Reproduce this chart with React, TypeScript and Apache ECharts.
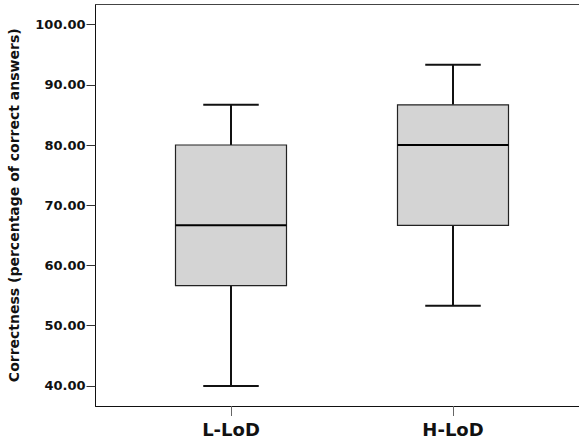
import React, { useEffect, useRef } from "react";
import * as echarts from "echarts";

const categories = ["L-LoD", "H-LoD"];
const lowWhisker = [40, 53.33];
const q1Values = [56.67, 66.67];
const medians = [66.67, 80];
const q3Values = [80, 86.67];
const highWhisker = [86.67, 93.33];
const yTicks = [40, 50, 60, 70, 80, 90, 100];
const yAxisName = "Correctness (percentage of correct answers)";
const Y_MIN = 36.667;
const Y_MAX = 103.333;

const FONT = "DejaVu Sans";

export default function App() {
  const ref = useRef<HTMLDivElement>(null);
  useEffect(() => {
    if (!ref.current) return;
    const chart = echarts.init(ref.current, null, { renderer: "svg" });
    const boxData = categories.map((_, i) => [
      i,
      lowWhisker[i],
      q1Values[i],
      medians[i],
      q3Values[i],
      highWhisker[i],
    ]);
    const option: any = {
      animation: false,
      backgroundColor: "#ffffff",
      grid: [
        { left: 120, right: 15, top: 4.5, bottom: 34, outerBoundsMode: "none", containLabel: false },
        { left: 95.5, right: -2, top: 4.5, bottom: 34, outerBoundsMode: "none", containLabel: false },
      ],
      xAxis: [
        {
          type: "category",
          gridIndex: 0,
          data: categories,
          boundaryGap: true,
          axisLine: { show: false },
          axisTick: { show: true, alignWithLabel: true, length: 10, lineStyle: { color: "#666", width: 1 } },
          axisLabel: { fontFamily: FONT, fontSize: 18, fontWeight: "bold", color: "#111", margin: 14 },
          splitLine: { show: false },
        },
        {
          type: "value",
          gridIndex: 1,
          min: 0,
          max: 1,
          position: "bottom",
          axisLine: { show: true, onZero: false, lineStyle: { color: "#111", width: 1 } },
          axisTick: { show: false },
          axisLabel: { show: false },
          splitLine: { show: false },
        },
        {
          type: "value",
          gridIndex: 1,
          min: 0,
          max: 1,
          position: "top",
          axisLine: { show: true, onZero: false, lineStyle: { color: "#444", width: 1 } },
          axisTick: { show: false },
          axisLabel: { show: false },
          splitLine: { show: false },
        },
      ],
      yAxis: [
        {
          type: "value",
          gridIndex: 0,
          min: Y_MIN,
          max: Y_MAX,
          show: false,
          splitLine: { show: false },
        },
        {
          type: "value",
          gridIndex: 1,
          min: Y_MIN,
          max: Y_MAX,
          position: "left",
          name: yAxisName,
          nameLocation: "middle",
          nameGap: 75,
          nameTextStyle: { fontFamily: FONT, fontSize: 14, fontWeight: "bold", color: "#111" },
          axisLine: { show: true, onZero: false, lineStyle: { color: "#111", width: 1 } },
          axisTick: { show: true, length: 9, customValues: yTicks, lineStyle: { color: "#333", width: 1 } },
          axisLabel: {
            customValues: yTicks,
            fontFamily: FONT,
            fontSize: 13,
            fontWeight: "bold",
            color: "#111",
            margin: 10,
            formatter: (v: number) => v.toFixed(2),
          },
          splitLine: { show: false },
        },
      ],
      series: [
        {
          type: "custom",
          xAxisIndex: 0,
          yAxisIndex: 0,
          data: boxData,
          encode: { x: 0, y: [1, 2, 3, 4, 5] },
          renderItem: (params: any, api: any) => {
            const idx = api.value(0);
            const low = api.coord([idx, api.value(1)]);
            const q1 = api.coord([idx, api.value(2)]);
            const med = api.coord([idx, api.value(3)]);
            const q3 = api.coord([idx, api.value(4)]);
            const high = api.coord([idx, api.value(5)]);
            const band = api.size([1, 0])[0];
            const boxW = band * 0.5;
            const capW = band * 0.25;
            const cx = low[0];
            const whiskerStyle = { stroke: "#111", lineWidth: 2 };
            return {
              type: "group",
              children: [
                { type: "line", shape: { x1: cx, y1: high[1], x2: cx, y2: q3[1] }, style: whiskerStyle },
                { type: "line", shape: { x1: cx, y1: q1[1], x2: cx, y2: low[1] }, style: whiskerStyle },
                { type: "line", shape: { x1: cx - capW / 2, y1: high[1], x2: cx + capW / 2, y2: high[1] }, style: whiskerStyle },
                { type: "line", shape: { x1: cx - capW / 2, y1: low[1], x2: cx + capW / 2, y2: low[1] }, style: whiskerStyle },
                {
                  type: "rect",
                  shape: { x: cx - boxW / 2, y: q3[1], width: boxW, height: q1[1] - q3[1] },
                  style: { fill: "#d4d4d4", stroke: "#222", lineWidth: 1.2 },
                },
                {
                  type: "line",
                  shape: { x1: cx - boxW / 2, y1: med[1], x2: cx + boxW / 2, y2: med[1] },
                  style: { stroke: "#000", lineWidth: 2 },
                },
              ],
            };
          },
        },
      ],
    };
    chart.setOption(option);
    return () => chart.dispose();
  }, []);
  return (
    <div
      ref={ref}
      style={{ position: "fixed", left: 0, top: 0, width: 579, height: 440, background: "#fff" }}
    />
  );
}
